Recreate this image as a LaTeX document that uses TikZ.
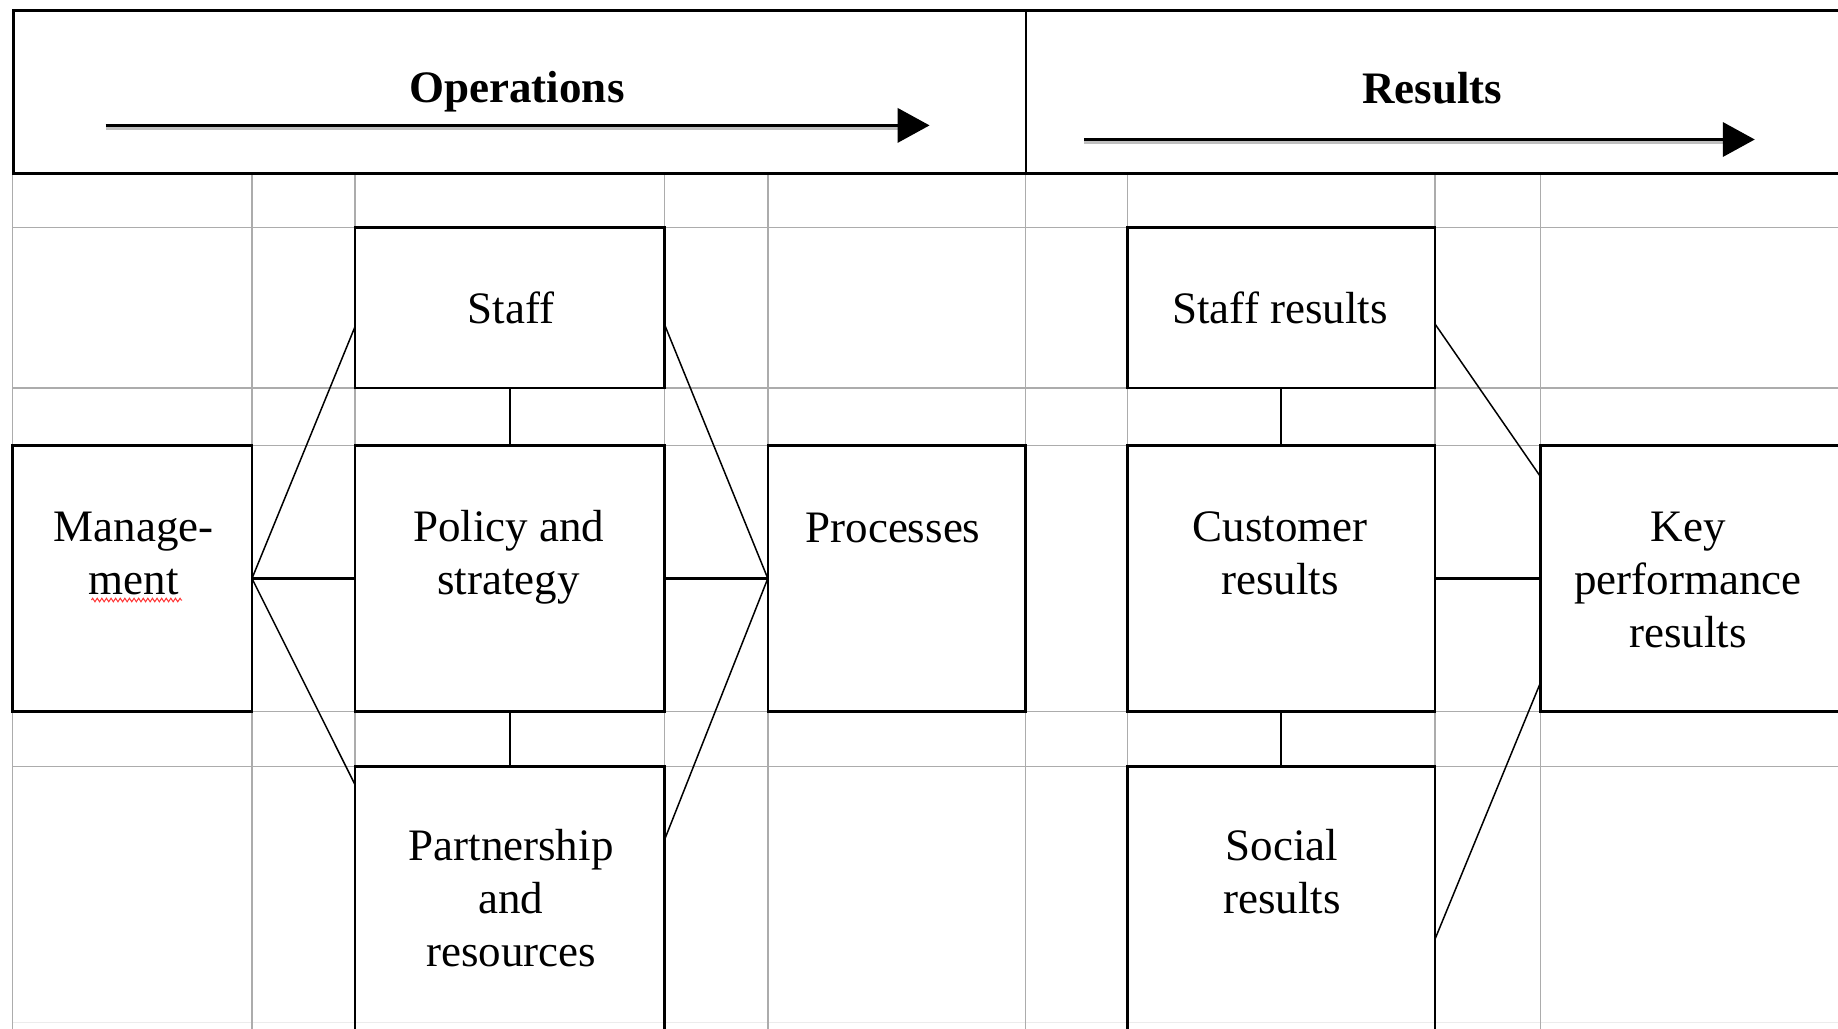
\documentclass[tikz,border=0pt]{standalone}
\usepackage{fontspec}
\setmainfont{Liberation Serif}
\usetikzlibrary{arrows.meta,decorations.pathmorphing}
\begin{document}
\begin{tikzpicture}[x=1pt,y=-1pt,
  gridline/.style={draw=gray!65, line width=1.4pt},
  box/.style={draw=black, line width=2.6pt, rectangle, inner sep=0pt, outer sep=0pt, anchor=north west},
  lbl/.style={font=\fontsize{45}{53}\selectfont, align=center, inner sep=0pt},
  hdr/.style={font=\fontsize{45}{53}\selectfont\bfseries, inner sep=0pt},
  hline/.style={line width=3pt},
  link/.style={line width=2.2pt},
  diag/.style={line width=1.5pt},
  flow/.style={line width=3.8pt, -{Triangle[length=32pt,width=34pt]}},
  flowshadow/.style={draw=gray!50, line width=3.6pt},
]
\useasboundingbox (0,0) rectangle (1838,1028);
\clip (0,0) rectangle (1838,1028);

% grid
\foreach \y in {227.4,388,445.4,711.5,766.6}
  \draw[gridline] (12.5,\y) -- (1840,\y);
\draw[draw=gray!15, line width=1pt] (12.5,1022) -- (1840,1022);
\foreach \x in {12.5,252,355,664.6,767.8,1025.7,1127.7,1434.8,1540.3}
  \draw[gridline] (\x,173.5) -- (\x,1030);

% header
\draw[hline] (13,10.5) -- (1840,10.5);
\draw[hline] (13,173.5) -- (1840,173.5);
\draw[line width=2.2pt] (13.5,9) -- (13.5,175);
\draw[line width=1.6pt] (1025.7,10.5) -- (1025.7,173.5);

\node[hdr] (opsT) at (517,92) {Operations};
\node[hdr] (resT) at (1432.4,88) {Results};

\coordinate (opsA) at (105.5,125.4);
\coordinate (opsB) at (929.6,125.4);
\coordinate (opsS) at (900,128.2);
\coordinate (opsR) at (105.5,128.2);
\coordinate (resA) at (1084.3,139.5);
\coordinate (resB) at (1754.8,139.5);
\coordinate (resS) at (1725,142.3);
\coordinate (resR) at (1084.3,142.3);
\draw[flowshadow] (opsR) -- (opsS);
\draw[flowshadow] (resR) -- (resS);
\draw[flow] (opsA) -- (opsB);
\draw[flow] (resA) -- (resB);

% boxes
\node[box, minimum width=239.5pt, minimum height=266.1pt] (mgmt) at (12.5,445.4) {};
\node[box, minimum width=309.6pt, minimum height=160.6pt] (staff) at (355,227.4) {};
\node[box, minimum width=309.6pt, minimum height=266.1pt] (pol) at (355,445.4) {};
\node[box, minimum width=309.6pt, minimum height=290pt] (part) at (355,766.6) {};
\node[box, minimum width=257.9pt, minimum height=266.1pt] (proc) at (767.8,445.4) {};
\node[box, minimum width=307.1pt, minimum height=160.6pt] (sres) at (1127.7,227.4) {};
\node[box, minimum width=307.1pt, minimum height=266.1pt] (cust) at (1127.7,445.4) {};
\node[box, minimum width=307.1pt, minimum height=290pt] (soc) at (1127.7,766.6) {};
\node[box, minimum width=320pt, minimum height=266.1pt] (key) at (1540.3,445.4) {};

% texts
\node[lbl] (staffT) at (511,308) {Staff};
\node[lbl] (mgmtT) at (133.6,553) {Manage-\\ment};
\node[lbl] (polT) at (508.7,557) {Policy and\\strategy};
\node[lbl] (procT) at (893,527.5) {Processes};
\node[lbl] (partT) at (511,898) {Partnership\\and\\resources};
\node[lbl] (sresT) at (1280,308) {Staff results};
\node[lbl] (custT) at (1280,553) {Customer\\results};
\node[lbl] (socT) at (1282,871.5) {Social\\results};
\node[lbl] (keyT) at (1688,580) {Key\\performance\\results};

% spell-check squiggle
\coordinate (sqA) at (91.5,600);
\coordinate (sqB) at (182,600);
\draw[red!80, line width=1pt, decorate, decoration={zigzag, amplitude=1.8pt, segment length=4.6pt}] (sqA) -- (sqB);

% straight connectors
\draw[link] (staff.south) -- (pol.north);
\draw[link] (pol.south) -- (part.north);
\draw[link] (mgmt.east) -- (pol.west);
\draw[link] (pol.east) -- (proc.west);
\draw[link] (sres.south) -- (cust.north);
\draw[link] (cust.south) -- (soc.north);
\draw[link] (cust.east) -- (key.west);

% diagonal connectors
\draw[diag] (mgmt.east) -- ([yshift=-19pt]staff.west);
\draw[diag] (mgmt.east) -- ([yshift=-18pt]part.north west);
\draw[diag] ([yshift=-17pt]staff.east) -- (proc.west);
\draw[diag] (proc.west) -- ([yshift=-73pt]part.north east);
\draw[diag] ([yshift=-16pt]sres.east) -- ([yshift=-31pt]key.north west);
\draw[diag] ([yshift=-173pt]soc.north east) -- ([yshift=28.5pt]key.south west);
\end{tikzpicture}
\end{document}
